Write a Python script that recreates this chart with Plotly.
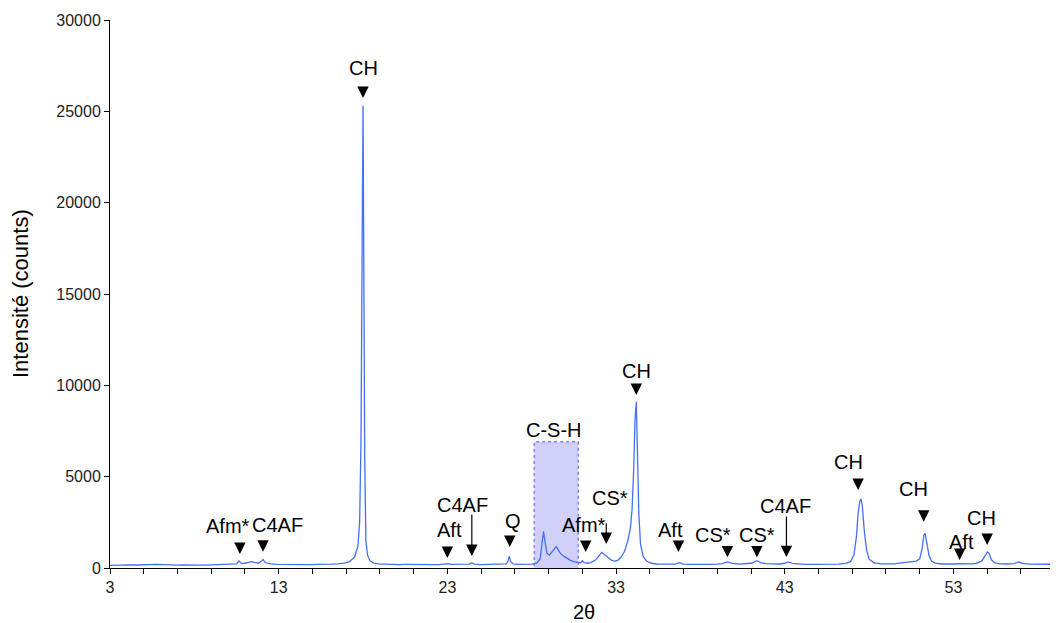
import plotly.graph_objects as go

# ---- XRD pattern (2theta, counts) ----
two_theta = [
    3.0, 3.4, 3.8, 4.2, 4.6, 5.0, 5.4, 5.8, 6.2, 6.6, 7.0, 7.4, 7.8, 8.2, 8.6, 9.0, 9.4, 9.8,
    10.2, 10.5, 10.65, 10.8, 11.0, 11.2, 11.4, 11.6, 11.8, 12.0, 12.07, 12.2, 12.5, 12.9,
    13.3, 13.7, 14.1, 14.5, 14.9, 15.3, 15.7, 16.1, 16.5, 16.9, 17.2, 17.5, 17.7, 17.8,
    17.88, 17.95, 18.0, 18.05, 18.1, 18.17, 18.27, 18.4, 18.6, 18.9, 19.3, 19.7, 20.1,
    20.5, 20.9, 21.3, 21.7, 22.1, 22.5, 22.9, 23.05, 23.2, 23.6, 24.0, 24.3, 24.45, 24.6,
    25.0, 25.4, 25.8, 26.2, 26.5, 26.6, 26.67, 26.75, 26.9, 27.2, 27.6, 28.0, 28.3, 28.5,
    28.62, 28.7, 28.78, 28.9, 29.05, 29.2, 29.35, 29.45, 29.55, 29.7, 29.9, 30.1, 30.3,
    30.5, 30.7, 30.9, 31.0, 31.1, 31.3, 31.5, 31.8, 32.0, 32.15, 32.3, 32.45, 32.6, 32.75,
    32.9, 33.1, 33.3, 33.5, 33.7, 33.85, 33.95, 34.05, 34.12, 34.2, 34.27, 34.35, 34.45,
    34.6, 34.8, 35.1, 35.4, 35.8, 36.2, 36.5, 36.75, 37.0, 37.4, 37.8, 38.2, 38.6, 39.0,
    39.3, 39.6, 39.9, 40.3, 40.7, 41.0, 41.35, 41.6, 41.9, 42.3, 42.7, 43.0, 43.2, 43.45,
    43.8, 44.2, 44.6, 45.0, 45.4, 45.8, 46.2, 46.6, 46.9, 47.1, 47.25, 47.35, 47.45, 47.52,
    47.6, 47.72, 47.85, 48.0, 48.3, 48.7, 49.1, 49.5, 49.9, 50.3, 50.6, 50.8, 51.0, 51.15,
    51.25, 51.32, 51.42, 51.55, 51.7, 51.9, 52.3, 52.7, 53.1, 53.4, 53.7, 54.1, 54.4, 54.7,
    54.9, 55.0, 55.12, 55.25, 55.45, 55.8, 56.2, 56.6, 56.85, 57.1, 57.5, 57.9, 58.3, 58.7,
    59.2,
]
counts = [
    140, 160, 145, 170, 165, 185, 175, 200, 190, 170, 160, 175, 150, 160, 155, 165, 170, 180,
    200, 230, 380, 240, 260, 310, 350, 300, 260, 400, 470, 300, 220, 200,
    190, 200, 185, 195, 190, 200, 190, 210, 230, 270, 350, 600, 1200, 2500,
    7000, 16300, 25300, 16000, 6000, 1500, 700, 400, 280, 230, 210, 200, 190,
    195, 185, 190, 180, 185, 190, 200, 240, 200, 190, 195, 210, 280, 210,
    190, 200, 190, 200, 220, 400, 650, 350, 220, 200, 195, 210, 260, 500,
    1400, 2000, 1500, 800, 700, 850, 1050, 1170, 1000, 800, 650, 520, 420,
    350, 300, 290, 400, 300, 260, 300, 450, 700, 860, 750, 620, 520, 420,
    380, 420, 600, 900, 1500, 2200, 3200, 5500, 8000, 9100, 6500, 3000, 1300,
    650, 380, 260, 220, 210, 200, 210, 290, 210, 200, 190, 195, 200, 210,
    240, 330, 250, 210, 220, 260, 400, 280, 240, 210, 220, 260, 330, 250,
    210, 200, 195, 200, 190, 200, 210, 250, 350, 700, 1700, 3000, 3650, 3780,
    3400, 2000, 1000, 480, 280, 230, 215, 230, 280, 330, 350, 380, 500, 1100,
    1800, 1900, 1400, 700, 380, 270, 220, 210, 220, 240, 220, 230, 260, 400,
    700, 880, 800, 450, 280, 230, 220, 240, 330, 250, 210, 200, 215, 200,
    205,
]

# ---- phase labels (text position in data units) ----
label_text = ["CH", "Afm*", "C4AF", "Aft", "C4AF", "Q", "C-S-H", "Afm*", "CS*", "CH",
              "Aft", "CS*", "CS*", "C4AF", "CH", "CH", "Aft", "CH"]
label_x = [18.0, 9.97, 12.9, 23.1, 23.9, 26.9, 29.3, 31.1, 32.65, 34.2,
           36.2, 38.73, 41.34, 43.04, 46.8, 50.65, 53.5, 54.66]
label_y = [27370, 2300, 2350, 2080, 3450, 2570, 7550, 2350, 3830, 10780,
           2080, 1800, 1800, 3390, 5800, 4320, 1420, 2740]

# ---- short peak markers (arrow tip positions) ----
tick_x = [18.0, 10.7, 12.07, 23.0, 26.7, 31.2, 34.2, 36.7, 39.6, 41.35, 47.35, 51.24, 53.37, 55.0]
tick_y = [25730, 770, 890, 550, 1150, 875, 9470, 875, 585, 585, 4270, 2535, 440, 1260]

# ---- long arrows (x, top, tip) ----
long_x = [24.45, 32.42, 43.1]
long_top = [3010, 2535, 2900]
long_tip = [657, 1314, 600]

# ---- C-S-H region ----
csh_x = [28.15, 30.76]
csh_y = [-1020, 6910]

FONT = "Liberation Sans, Arial, sans-serif"

fig = go.Figure()
fig.add_trace(go.Scatter(x=two_theta, y=counts, mode="lines",
                         line=dict(color="#4470F4", width=1.3), showlegend=False,
                         hoverinfo="skip"))

fig.add_shape(type="rect", xref="x", yref="y", x0=csh_x[0], x1=csh_x[1],
              y0=csh_y[0], y1=csh_y[1], layer="below",
              fillcolor="rgb(208,208,250)",
              line=dict(color="#7D86F0", width=1.5, dash="dot"))

annotations = []
for t, x, y in zip(label_text, label_x, label_y):
    annotations.append(dict(x=x, y=y, xref="x", yref="y", text=t, showarrow=False,
                            xanchor="center", yanchor="middle",
                            font=dict(family=FONT, size=20, color="black")))
for x, y in zip(tick_x, tick_y):
    annotations.append(dict(x=x, y=y, xref="x", yref="y", text="", showarrow=True,
                            ax=0, ay=-12, arrowhead=2, arrowsize=1.9, arrowwidth=1.2,
                            arrowcolor="black"))
for x, top, tip in zip(long_x, long_top, long_tip):
    annotations.append(dict(x=x, y=tip, xref="x", yref="y", text="", showarrow=True,
                            axref="x", ayref="y", ax=x, ay=top, arrowhead=2,
                            arrowsize=1.9, arrowwidth=1.2, arrowcolor="black"))

annotations.append(dict(xref="paper", yref="paper", x=-90 / 948, y=0.5,
                        text="Intensité (counts)", textangle=-90, showarrow=False,
                        xanchor="center", yanchor="middle",
                        font=dict(family=FONT, size=22, color="black")))
annotations.append(dict(xref="paper", yref="paper", x=0.5, y=-44 / 548,
                        text="2θ", showarrow=False, xanchor="center", yanchor="middle",
                        font=dict(family=FONT, size=20, color="black")))

# page body has an 8px margin, so the figure is offset by (8, 8)
fig.update_layout(
    width=1050, height=615,
    margin=dict(l=102, r=0, t=12, b=55),
    paper_bgcolor="white", plot_bgcolor="white",
    annotations=annotations,
    font=dict(family=FONT, size=16, color="#222"),
)
fig.update_xaxes(range=[3, 59.2], tick0=3, dtick=10, ticks="outside", ticklen=5,
                 tickcolor="black", showline=True, linecolor="black", linewidth=1,
                 showgrid=False, zeroline=False,
                 tickfont=dict(family=FONT, size=16, color="#222"),
                 minor=dict(dtick=2, tick0=3, ticks="outside", ticklen=5,
                            tickcolor="black", showgrid=False))
fig.update_yaxes(range=[0, 30000], dtick=5000, tickformat="d", ticks="outside", ticklen=5,
                 tickcolor="black", showline=True, linecolor="black", linewidth=1,
                 showgrid=False, zeroline=False,
                 tickfont=dict(family=FONT, size=16, color="#222"))

fig.write_html("out.html")
